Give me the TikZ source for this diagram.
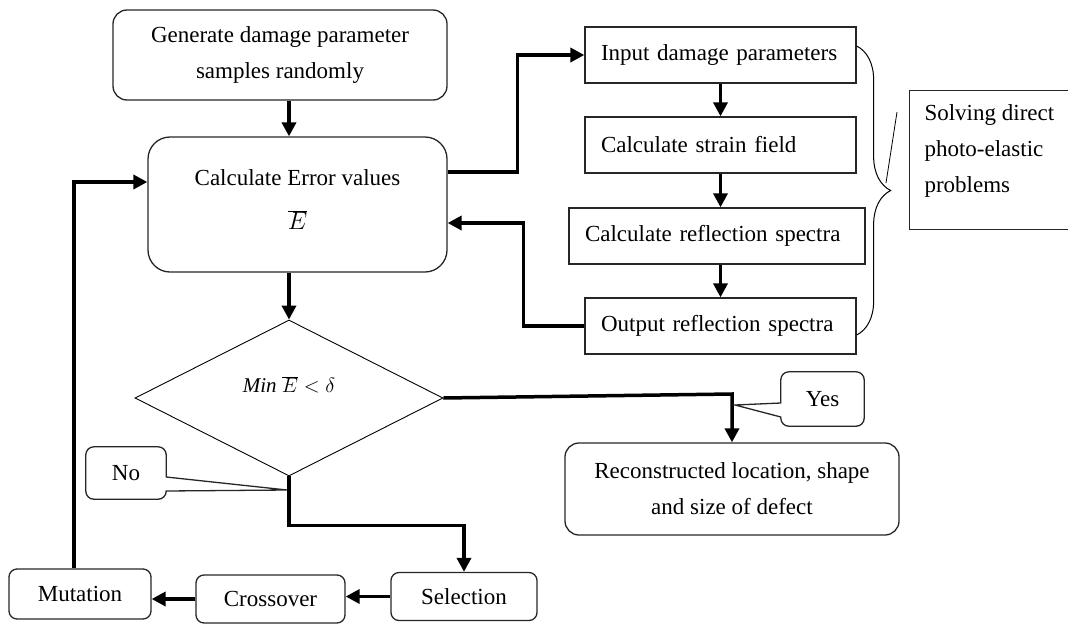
\documentclass[tikz,border=0pt]{standalone}
\usepackage{fontspec}
\setmainfont{Liberation Serif}
\usetikzlibrary{arrows.meta,shapes.geometric,decorations.pathreplacing,calc}

\tikzset{
  txt/.style={font=\fontsize{23}{36}\selectfont},
  box/.style={draw=black!85, line width=1.3pt, txt},
  rbox/.style={box, rounded corners=14pt, align=center},
  sbox/.style={box, rounded corners=8pt},
  lbox/.style={box, inner xsep=16pt, minimum height=56pt, align=left},
  arr/.style={line width=3.5pt, -{Triangle[length=14pt,width=14pt]}},
}

\begin{document}
\begin{tikzpicture}[x=1pt,y=-1pt]
\useasboundingbox (0,0) rectangle (1068,624);
\clip (0,0) rectangle (1068,624);

% main loop
\node[rbox, minimum width=334pt, minimum height=90pt] (gen) at (280,55) {Generate damage parameter\\samples randomly};
\node[rbox, rounded corners=22pt, minimum width=299pt, minimum height=135pt] (calc) at (297.5,204.5) {Calculate Error values\\[8pt]$\overline{E}$\\[-26pt]};
\node[diamond, draw, line width=0.9pt, minimum width=308pt, minimum height=156pt, inner sep=0pt] (dia) at (289,398) {};
\node[txt, font=\fontsize{21}{24}\selectfont] (cond) at (289,385) {\textit{Min} $\overline{E}<\delta$};

% direct problem
\node[lbox, text width=239pt] (inp) at (720.5,55) {Input damage parameters};
\node[lbox, text width=239pt] (str) at (720.5,145) {Calculate strain field};
\node[lbox, text width=264pt] (refl) at (717,236) {Calculate reflection spectra};
\node[lbox, text width=239pt] (out) at (720.5,326) {Output reflection spectra};

% result and GA steps
\node[rbox, minimum width=334pt, minimum height=92pt] (rec) at (732,489) {Reconstructed location, shape\\and size of defect};
\node[sbox, minimum width=146pt, minimum height=48pt] (sel) at (464,596.5) {Selection};
\node[sbox, minimum width=149pt, minimum height=48pt] (cro) at (270.5,599) {Crossover};
\node[sbox, minimum width=142pt, minimum height=50pt] (mut) at (80,594) {Mutation};

% connectors
\draw[arr] (gen.south -| dia.north) -- (calc.north -| dia.north);
\draw[arr] (calc.south -| dia.north) -- (dia.north);
\draw[arr] ([yshift=32.5pt]calc.east) -- ++(70,0) |- (inp.west);
\draw[arr] (inp.south) -- (str.north);
\draw[arr] (str.south) -- (str.south |- refl.north);
\draw[arr] (refl.south -| out.north) -- (out.north);
\draw[arr] (out.west) -- ++(-61,0) |- ([yshift=-18.5pt]calc.east);
\draw[arr] (dia.east) -- ([yshift=4pt]dia.east -| rec.north) -- (rec.north);
\draw[arr] (dia.south) -- ++(0,49) -| (sel.north);
\draw[arr] (sel.west) -- (sel.west -| cro.east);
\draw[arr] (cro.west) -- (cro.west -| mut.east);
\draw[arr] ([xshift=-6pt]mut.north) |- ([yshift=22.5pt]calc.west);

% callouts
\node[txt, minimum width=80pt, minimum height=52pt] (no) at (126,473) {No};
\coordinate (ntip) at (287,490);
\draw[black!85, line width=1.3pt] (ntip) -- ([yshift=-18pt]no.east) [rounded corners=8pt] -- (no.south east) -- (no.south west) -- (no.north west) -- (no.north east) [sharp corners] -- ([yshift=-4pt]no.east) -- cycle;
\node[txt, minimum width=83pt, minimum height=54pt] (yes) at (822.5,399) {Yes};
\coordinate (ytip) at (735,405);
\draw[black!85, line width=1.3pt] (ytip) -- ([yshift=-4pt]yes.west) [rounded corners=8pt] -- (yes.north west) -- (yes.north east) -- (yes.south east) -- (yes.south west) [sharp corners] -- ([yshift=-18pt]yes.west) -- cycle;

% brace and note
\draw[line width=1pt, decorate, decoration={brace, amplitude=34pt}] ([yshift=9pt]inp.east) -- ([yshift=-9pt]out.east);
\node[box, minimum width=170pt, minimum height=139pt, anchor=north west] (sol) at (909,90) {};
\node[txt, anchor=north west, align=left] (soltxt) at (921,101) {Solving direct\\photo-elastic\\problems};
\draw[line width=0.8pt] ($(sol.north west)+(-23,93)$) -- ($(sol.north west)+(-12,22)$);
\end{tikzpicture}
\end{document}
